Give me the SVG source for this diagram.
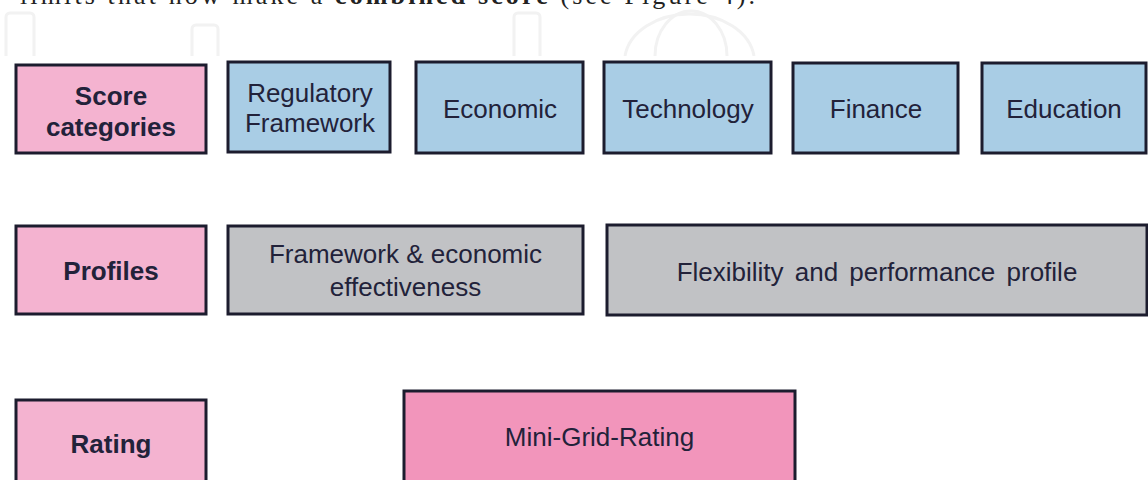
<svg xmlns="http://www.w3.org/2000/svg" width="1148" height="480" viewBox="0 0 1148 480">
<style>
.box{stroke:#1c1c2e;stroke-width:3}
.cat{fill:#f4b3d0}
.blue{fill:#a9cde5}
.gray{fill:#c1c2c5}
.mini{fill:#f295bb}
.t{font-family:"Liberation Sans",Arial,sans-serif;font-size:26px;fill:#22223a;text-anchor:middle}
.b{font-weight:bold}
.wm{fill:none;stroke:#f2f2f2;stroke-width:3}
.cap{font-family:"Liberation Serif","Times New Roman",serif;font-size:26px;fill:#222}
</style>
<defs>
<clipPath id="wmclip"><rect x="0" y="0" width="1148" height="56"/></clipPath>
</defs>
<rect width="1148" height="480" fill="#ffffff"/>
<g id="watermark" clip-path="url(#wmclip)">
<rect class="wm" x="6" y="13" width="28" height="80" rx="4"/>
<rect class="wm" x="192" y="25" width="26" height="70" rx="4"/>
<rect class="wm" x="514" y="13" width="26" height="80" rx="4"/>
<path class="wm" d="M625 56 A65 48 0 0 1 754 56"/>
<path class="wm" d="M655 56 A36 45 0 0 1 727 56"/>
</g>
<text class="cap" x="20" y="4" textLength="735" lengthAdjust="spacing">limits that now make a <tspan font-weight="bold">combined score</tspan> (see Figure 4).</text>
<g id="score-categories"><rect class="box cat" x="16" y="65" width="190" height="88"/><text class="t b" x="111" y="105">Score</text><text class="t b" x="111" y="136">categories</text></g>
<g id="regulatory-framework"><rect class="box blue" x="228" y="62" width="162" height="90"/><text class="t" x="310" y="102">Regulatory</text><text class="t" x="310" y="132">Framework</text></g>
<g id="economic"><rect class="box blue" x="416" y="62" width="167" height="91"/><text class="t" x="500" y="118">Economic</text></g>
<g id="technology"><rect class="box blue" x="604" y="62" width="167" height="91"/><text class="t" x="688" y="118">Technology</text></g>
<g id="finance"><rect class="box blue" x="793" y="63" width="165" height="90"/><text class="t" x="876" y="118">Finance</text></g>
<g id="education"><rect class="box blue" x="982" y="63" width="164" height="90"/><text class="t" x="1064" y="118">Education</text></g>
<g id="profiles"><rect class="box cat" x="16" y="226" width="190" height="88"/><text class="t b" x="111" y="280">Profiles</text></g>
<g id="framework-economic"><rect class="box gray" x="228" y="226" width="355" height="88"/><text class="t" x="405.5" y="263">Framework &amp; economic</text><text class="t" x="405.5" y="296">effectiveness</text></g>
<g id="flexibility-performance"><rect class="box gray" x="607" y="225" width="540" height="90"/><text class="t" x="877" y="281" word-spacing="4">Flexibility and performance profile</text></g>
<g id="rating"><rect class="box cat" x="16" y="400" width="190" height="90"/><text class="t b" x="111" y="453">Rating</text></g>
<g id="mini-grid-rating"><rect class="box mini" x="404" y="391" width="391" height="99"/><text class="t" x="599.5" y="446">Mini-Grid-Rating</text></g>
<g id="connectors"></g>
</svg>
